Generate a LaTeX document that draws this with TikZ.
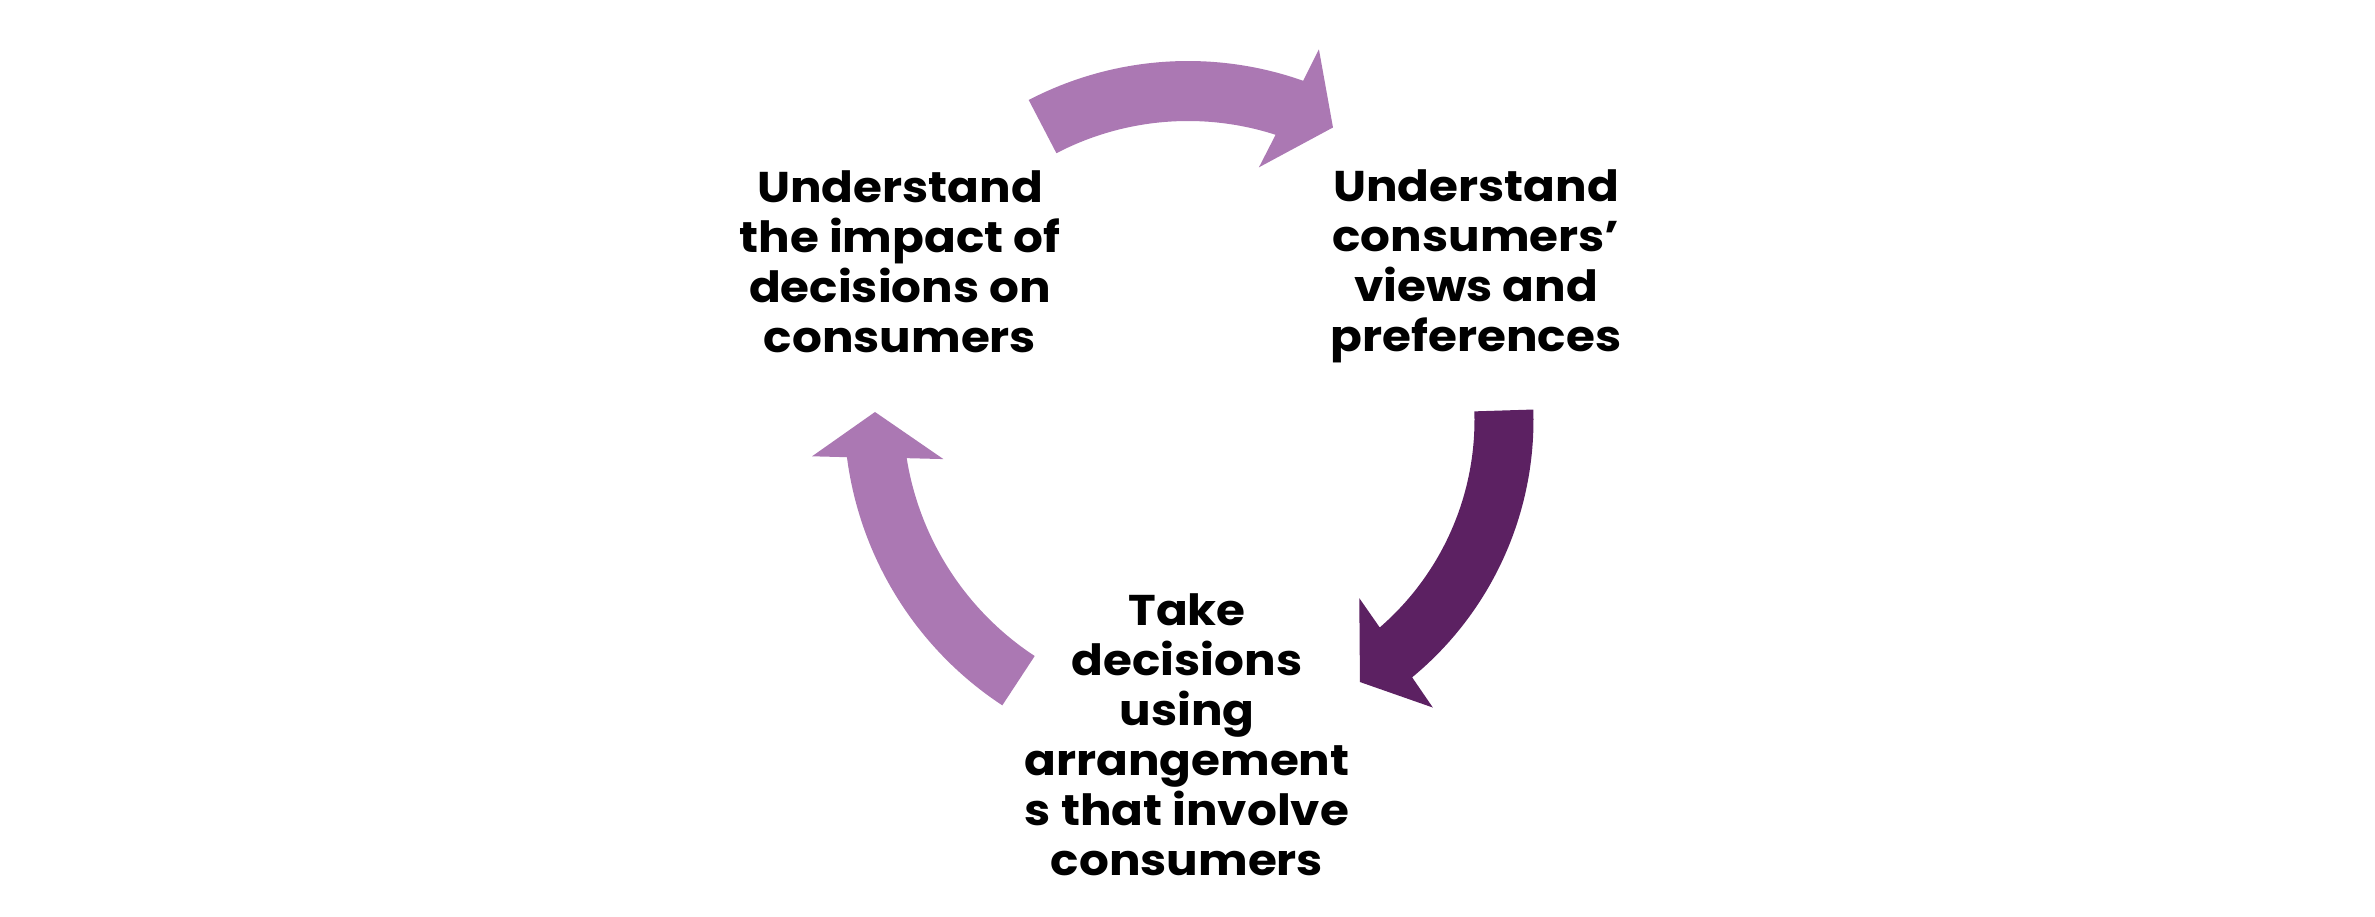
\documentclass[tikz,border=0pt]{standalone}
\usepackage{fontspec}
\setmainfont{Poppins}[FakeStretch=1.09]
\definecolor{lightpurple}{RGB}{171,120,179}
\definecolor{darkpurple}{RGB}{92,33,98}
\tikzset{
  label/.style={align=center, anchor=base, inner sep=0pt, font=\fontsize{43}{50}\selectfont\bfseries, text=black},
}
\begin{document}
\begin{tikzpicture}[x=1pt,y=1pt]
\useasboundingbox (0,0) rectangle (2375,916);
\coordinate (Ctop) at (1188,510);
\coordinate (Cright) at (1200,496);
\coordinate (Cleft) at (1195,504);
% top arrow
\begin{scope}[shift={(Ctop)}]
  \fill[lightpurple] (117.5:345) arc[start angle=117.5, end angle=70.5, radius=345]
    -- (69.85:380) -- (62.5:314) -- (73.45:249) -- (72.1:285)
    arc[start angle=72.1, end angle=117.5, radius=285] -- cycle;
\end{scope}
% right arrow
\begin{scope}[shift={(Cright)}]
  \fill[darkpurple] (1.8:333.5) arc[start angle=1.8, end angle=-50.5, radius=333.5]
    -- (-51:370) -- (-58.6:307) -- (-48.2:239) -- (-49.1:274.5)
    arc[start angle=-49.1, end angle=1.8, radius=274.5] -- cycle;
\end{scope}
% left arrow
\begin{scope}[shift={(Cleft)}]
  \fill[lightpurple] (236.7:351) arc[start angle=236.7, end angle=187.4, radius=351]
    -- (186.6:385.5) -- (180:320) -- (190.6:256) -- (189.1:292)
    arc[start angle=189.1, end angle=236.7, radius=292] -- cycle;
\end{scope}
\node[label] (impact) at (900,563) {Understand\\the impact of\\decisions on\\consumers};
\node[label] (views) at (1476,564) {Understand\\consumers’\\views and\\preferences};
\node[label] (take) at (1187,41) {Take\\decisions\\using\\arrangement\\s that involve\\consumers};
\end{tikzpicture}
\end{document}
